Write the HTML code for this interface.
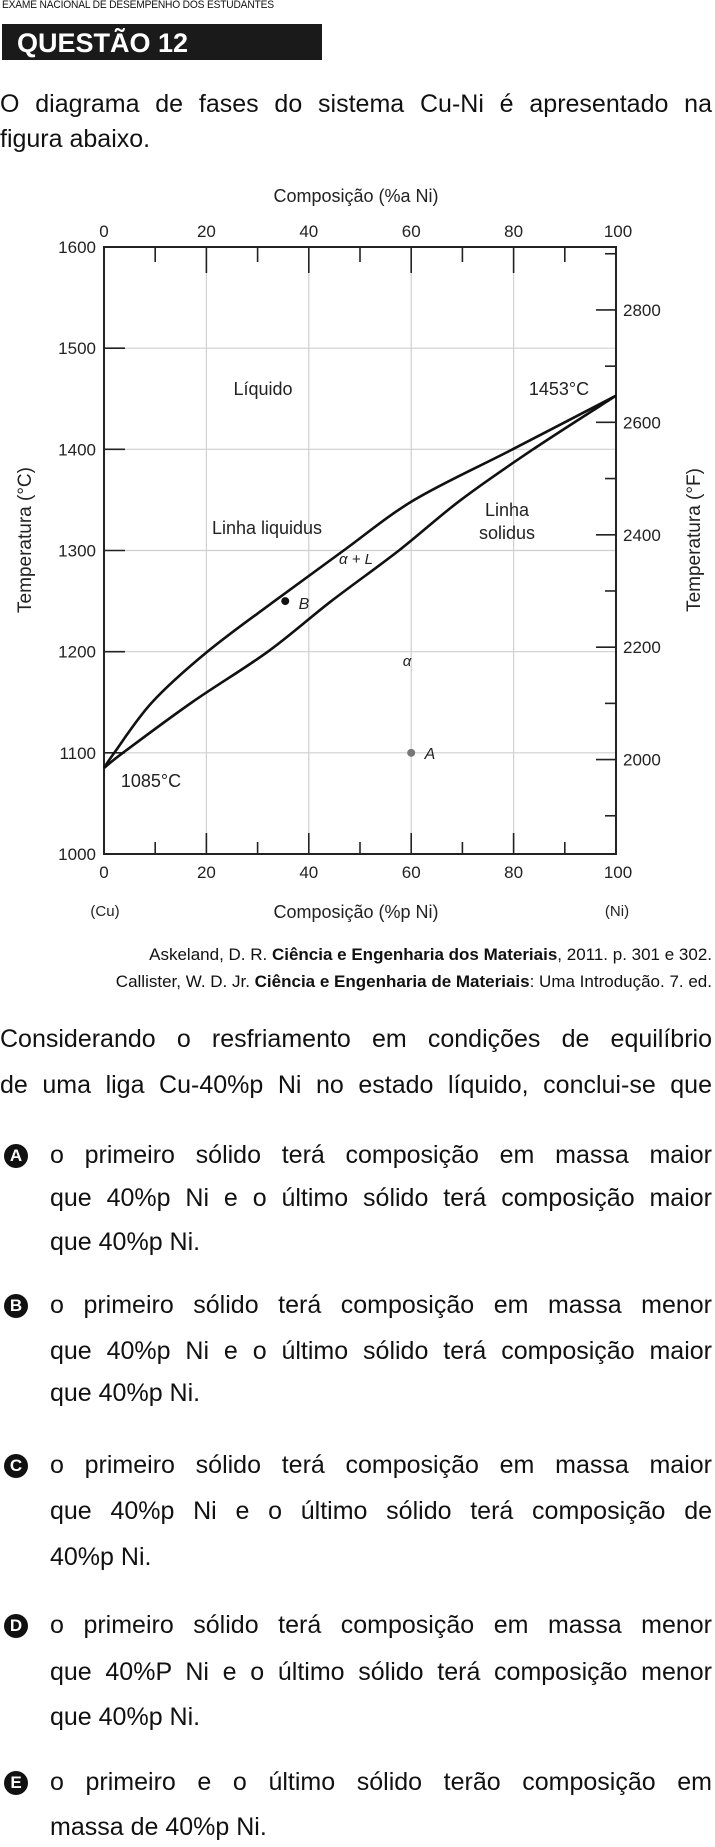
<!DOCTYPE html>
<html><head><meta charset="utf-8">
<style>
html,body{margin:0;padding:0;background:#fff;}
body{width:715px;height:1847px;position:relative;overflow:hidden;font-family:"Liberation Sans",Arial,sans-serif;color:#111;}
.abs{position:absolute;}
.ln{position:absolute;left:0;width:712px;font-size:25px;line-height:30px;white-space:nowrap;}
.j{text-align:justify;text-align-last:justify;}
.opt{left:50px;width:662px;}
.badge{position:absolute;left:4px;width:24px;height:24px;border-radius:50%;background:#111;color:#fff;font-weight:bold;font-size:17px;line-height:24px;text-align:center;}
svg text{font-family:"Liberation Sans",Arial,sans-serif;fill:#222;}
</style></head>
<body>
<div class="abs" style="left:2px;top:-1px;font-size:11px;line-height:12px;transform:scaleX(0.93);transform-origin:left;letter-spacing:-0.2px;">EXAME NACIONAL DE DESEMPENHO DOS ESTUDANTES</div>
<div class="abs" style="left:2px;top:24px;width:320px;height:36px;background:#1a1a1a;"></div>
<div class="abs" style="left:17px;top:27px;font-size:27px;line-height:32px;font-weight:bold;color:#fff;">QUESTÃO 12</div>

<div class="ln j" style="top:89px;">O diagrama de fases do sistema Cu-Ni é apresentado na</div>
<div class="ln" style="top:124px;">figura abaixo.</div>

<svg class="abs" style="left:0;top:0" width="715" height="1000" id="chart"></svg>

<div class="abs" style="right:3px;top:945px;font-size:17px;line-height:20px;white-space:nowrap;">Askeland, D. R. <b>Ciência e Engenharia dos Materiais</b>, 2011. p. 301 e 302.</div>
<div class="abs" style="right:3px;top:972px;font-size:17px;line-height:20px;white-space:nowrap;">Callister, W. D. Jr. <b>Ciência e Engenharia de Materiais</b>: Uma Introdução. 7. ed.</div>

<div class="ln j" style="top:1024px;">Considerando o resfriamento em condições de equilíbrio</div>
<div class="ln j" style="top:1070px;">de uma liga Cu-40%p Ni no estado líquido, conclui-se que</div>

<div>
<div class="badge" style="top:1144px;">A</div>
<div class="ln j opt" style="top:1140px;">o primeiro sólido terá composição em massa maior</div>
<div class="ln j opt" style="top:1183px;">que 40%p Ni e o último sólido terá composição maior</div>
<div class="ln opt" style="top:1227px;">que 40%p Ni.</div>
</div>
<div>
<div class="badge" style="top:1294px;">B</div>
<div class="ln j opt" style="top:1290px;">o primeiro sólido terá composição em massa menor</div>
<div class="ln j opt" style="top:1336px;">que 40%p Ni e o último sólido terá composição maior</div>
<div class="ln opt" style="top:1378px;">que 40%p Ni.</div>
</div>
<div>
<div class="badge" style="top:1454px;">C</div>
<div class="ln j opt" style="top:1450px;">o primeiro sólido terá composição em massa maior</div>
<div class="ln j opt" style="top:1496px;">que 40%p Ni e o último sólido terá composição de</div>
<div class="ln opt" style="top:1542px;">40%p Ni.</div>
</div>
<div>
<div class="badge" style="top:1614px;">D</div>
<div class="ln j opt" style="top:1610px;">o primeiro sólido terá composição em massa menor</div>
<div class="ln j opt" style="top:1657px;">que 40%P Ni e o último sólido terá composição menor</div>
<div class="ln opt" style="top:1702px;">que 40%p Ni.</div>
</div>
<div>
<div class="badge" style="top:1771px;">E</div>
<div class="ln j opt" style="top:1767px;">o primeiro e o último sólido terão composição em</div>
<div class="ln opt" style="top:1812px;">massa de 40%p Ni.</div>
</div>

<script>
const compTicks = [0, 20, 40, 60, 80, 100];
const tempTicks = [1000, 1100, 1200, 1300, 1400, 1500, 1600];
const fahrTicks = [2000, 2200, 2400, 2600, 2800];
const liquidusComp = [0, 2, 9.4, 20.2, 33.3, 46.8, 60.6, 79.8, 100];
const liquidusTemp = [1085, 1100, 1150, 1200, 1250, 1300, 1350, 1400, 1453];
const solidusComp = [0, 3.7, 17.2, 32, 44.4, 57.6, 69.7, 83.8, 100];
const solidusTemp = [1085, 1100, 1150, 1200, 1250, 1300, 1350, 1400, 1453];
const pointB = [35.4, 1250];
const pointA = [60, 1100];

const svg = document.getElementById('chart');
const NS = 'http://www.w3.org/2000/svg';
const X0 = 104, X1 = 616, Y0 = 854, Y1 = 247;
function xs(c){ return X0 + (c/100)*(X1-X0); }
function ys(t){ return Y0 - (t-1000)/600*(Y0-Y1); }
function yf(f){ return ys((f-32)*5/9); }
function mk(tag, attrs){ const e=document.createElementNS(NS,tag); for(const k in attrs) e.setAttribute(k,attrs[k]); svg.appendChild(e); return e; }
function txt(s,x,y,opts){ const e=mk('text',Object.assign({x:x,y:y,'font-size':17,'text-anchor':'middle'},opts||{})); e.textContent=s; return e; }

for (const t of tempTicks.slice(1,-1)) {
  const g = mk('line',{x1:X0,x2:X1,y1:ys(t),y2:ys(t),stroke:'#cfcfcf','stroke-width':1.2});
  
  
}
for (const c of compTicks.slice(1,-1)) {
  const g = mk('line',{x1:xs(c),x2:xs(c),y1:Y1,y2:Y0,stroke:'#cfcfcf','stroke-width':1.2});
  
  
}
const fr = mk('rect',{x:X0,y:Y1,width:X1-X0,height:Y0-Y1,fill:'none',stroke:'#222','stroke-width':2});



for (let c=0;c<=100;c+=10){
  const major = c%20===0;
  const L = major?26:15, Lb = major?21:12;
  if(c>0&&c<100){
    mk('line',{x1:xs(c),x2:xs(c),y1:Y1,y2:Y1+L,stroke:'#222','stroke-width':1.6});
    mk('line',{x1:xs(c),x2:xs(c),y1:Y0,y2:Y0-Lb,stroke:'#222','stroke-width':1.6});
  }
}
for (const c of compTicks){
  const a = txt(String(c), xs(c)+(c===100?2:0), 237);
  
  
  const b = txt(String(c), xs(c)+(c===100?2:0), 878);
  
  
}
for (const t of tempTicks){
  if(t>1000&&t<1600) mk('line',{x1:X0,x2:X0+21,y1:ys(t),y2:ys(t),stroke:'#222','stroke-width':1.6});
  const l = txt(String(t), 96, ys(t)+6, {'text-anchor':'end'});
  
  
}
for (let f=1900; f<=2900; f+=100){
  const major = fahrTicks.includes(f);
  mk('line',{x1:X1-(major?20:11),x2:X1,y1:yf(f),y2:yf(f),stroke:'#222','stroke-width':1.6});
}
for (const f of fahrTicks){
  const l = txt(String(f), 623, yf(f)+6, {'text-anchor':'start'});
  
  
}
function pathFrom(cs, ts){
  const p = cs.map((c,i)=>[xs(c), ys(ts[i])]);
  let d = 'M'+p[0][0]+','+p[0][1];
  for(let i=0;i<p.length-1;i++){
    const p0=p[Math.max(0,i-1)], p1=p[i], p2=p[i+1], p3=p[Math.min(p.length-1,i+2)];
    const c1=[p1[0]+(p2[0]-p0[0])/6, p1[1]+(p2[1]-p0[1])/6];
    const c2=[p2[0]-(p3[0]-p1[0])/6, p2[1]-(p3[1]-p1[1])/6];
    d += ' C'+c1+' '+c2+' '+p2;
  }
  return d;
}
const liq = mk('path',{d:pathFrom(liquidusComp,liquidusTemp),fill:'none',stroke:'#111','stroke-width':2.6});


const sol = mk('path',{d:pathFrom(solidusComp,solidusTemp),fill:'none',stroke:'#111','stroke-width':2.6});



const pB = mk('circle',{cx:xs(pointB[0]),cy:ys(pointB[1]),r:4,fill:'#111'});


const pA = mk('circle',{cx:xs(pointA[0]),cy:ys(pointA[1]),r:4,fill:'#777'});



const labels = [
  ['Composição (%a Ni)',356,202,{'font-size':18},'top-axis-title'],
  ['Composição (%p Ni)',356,918,{'font-size':18},'bottom-axis-title'],
  ['(Cu)',105,916,{'font-size':15},'cu-label'],
  ['(Ni)',617,916,{'font-size':15},'ni-label'],
  ['Líquido',263,395,{'font-size':18},'liquid-label'],
  ['1453°C',559,395,{'font-size':18},'ni-melting-label'],
  ['Linha liquidus',267,534,{'font-size':18},'liquidus-label'],
  ['Linha',507,516,{'font-size':18},'solidus-label-1'],
  ['solidus',507,539,{'font-size':18},'solidus-label-2'],
  ['α + L',356,564,{'font-style':'italic','font-size':15,'font-family':'Liberation Serif, serif'},'alpha-liquid-label'],
  ['B',304,609,{'font-style':'italic','font-size':16},'point-b-label'],
  ['α',407,666,{'font-style':'italic','font-size':15,'font-family':'Liberation Serif, serif'},'alpha-label'],
  ['A',430,759,{'font-style':'italic','font-size':16},'point-a-label'],
  ['1085°C',151,787,{'font-size':18},'cu-melting-label']
];
for (const L of labels){
  const e = txt(L[0],L[1],L[2],L[3]);
  
  
}
const yl = txt('Temperatura (°C)',0,0,{'font-size':19,transform:'translate(31,540) rotate(-90)'});


const yr = txt('Temperatura (°F)',0,0,{'font-size':19,transform:'translate(700,540) rotate(-90)'});


</script>
</body></html>
